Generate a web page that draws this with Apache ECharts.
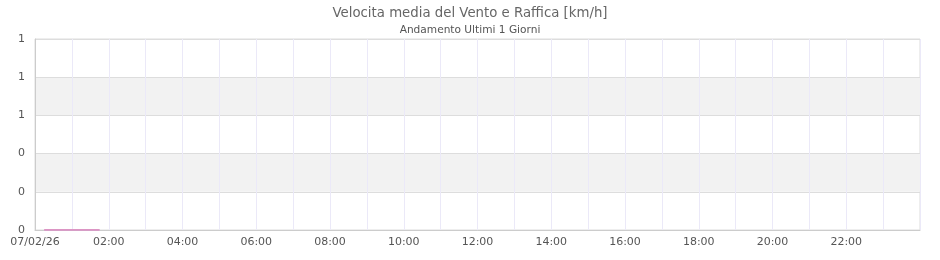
<!DOCTYPE html>
<html>
<head>
<meta charset="utf-8">
<script src="https://cdn.jsdelivr.net/npm/echarts@6/dist/echarts.min.js"></script>
<style>html,body{margin:0;padding:0;background:#fff}#c{width:940px;height:260px}</style>
</head>
<body>
<div id="c"></div>
<script>
var dayLabel = '07/02/26';
var times = ['00:15','00:30','00:45','01:00','01:15','01:30','01:45'];
var windSpeed = [0,0,0,0,0,0,0];
var windGust = [0,0,0,0,0,0,0];
var yTicks = [0,0.2,0.4,0.6,0.8,1];

var day0 = Date.UTC(2026,1,7);
var HOUR = 3600000;
function toTs(t){var p=t.split(':');return day0+(+p[0])*HOUR+(+p[1])*60000;}
function pairs(vals){return times.map(function(t,i){return [toTs(t),vals[i]];});}

var chart = echarts.init(document.getElementById('c'), null, {renderer:'canvas'});
chart.setOption({
  animation:false,
  title:{text:'Velocita media del Vento e Raffica [km/h]',subtext:'Andamento Ultimi 1 Giorni',left:'center',top:2,itemGap:5,
    textStyle:{fontFamily:'DejaVu Sans',fontSize:13.3,fontWeight:'normal',color:'#666'},
    subtextStyle:{fontFamily:'DejaVu Sans',fontSize:10.6,color:'#555'}},
  grid:{left:35,right:20,top:39,bottom:30,show:true,borderColor:'#ddd',borderWidth:1},
  xAxis:{type:'value',min:day0,max:day0+24*HOUR,interval:2*HOUR,
    axisLine:{show:true,lineStyle:{color:'#ccc'}},axisTick:{show:false},
    axisLabel:{showMaxLabel:false,color:'#555',fontFamily:'DejaVu Sans',fontSize:11,margin:7,
      formatter:function(v){var h=Math.round((v-day0)/HOUR);if(h===0)return dayLabel;return (h<10?'0':'')+h+':00';}},
    splitLine:{show:true,lineStyle:{color:'#ebe9f8'}},
    minorTick:{show:false,splitNumber:2},
    minorSplitLine:{show:true,lineStyle:{color:'#ebe9f8'}}},
  yAxis:{type:'value',min:yTicks[0],max:yTicks[yTicks.length-1],interval:0.2,
    axisLine:{show:true,lineStyle:{color:'#ccc'}},axisTick:{show:false},
    axisLabel:{color:'#555',fontFamily:'DejaVu Sans',fontSize:11,margin:10,formatter:function(v){return v.toFixed(0);}},
    splitLine:{show:true,lineStyle:{color:'#ddd'}},
    splitArea:{show:true,areaStyle:{color:['rgba(255,255,255,0)','#f2f2f2']}}},
  series:[
    {name:'Raffica',type:'line',data:pairs(windGust),showSymbol:false,lineStyle:{width:1.5,color:'#c8a0d8'},z:2},
    {name:'Velocita media',type:'line',data:pairs(windSpeed),showSymbol:false,lineStyle:{width:1.5,color:'#e08cbc'},z:3}
  ]
});
</script>
</body>
</html>
